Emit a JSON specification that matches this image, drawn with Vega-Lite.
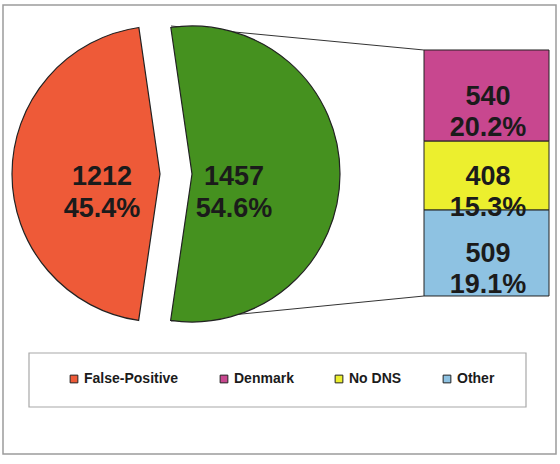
{
  "$schema": "https://vega.github.io/schema/vega-lite/v6.json",
  "width": 553,
  "height": 449,
  "padding": {"left": 3, "top": 5, "right": 4, "bottom": 10},
  "autosize": {"type": "none"},
  "background": "white",
  "config": {
    "view": {"stroke": "#9c9c9c", "strokeWidth": 1.5},
    "text": {"font": "Liberation Sans"}
  },
  "datasets": {
    "pie": [
      {"category": "False-Positive", "value": 1212, "pct": "45.4%"},
      {"category": "Rest", "value": 1457, "pct": "54.6%"}
    ],
    "bar": [
      {"category": "Denmark", "value": 540, "pct": "20.2%"},
      {"category": "No DNS", "value": 408, "pct": "15.3%"},
      {"category": "Other", "value": 509, "pct": "19.1%"}
    ]
  },
  "layer": [
    {
      "data": {"values": [{}]},
      "mark": {"type": "rect", "x": 26, "y": 348, "x2": 523, "y2": 402, "fill": "white", "stroke": "#a8a8a8", "strokeWidth": 1.2},
      "encoding": {}
    },
    {
      "data": {"values": [{}]},
      "mark": {"type": "rule", "stroke": "#333333", "strokeWidth": 1},
      "encoding": {"x": {"value": 168}, "y": {"value": 21}, "x2": {"value": 421}, "y2": {"value": 45}}
    },
    {
      "data": {"values": [{}]},
      "mark": {"type": "rule", "stroke": "#333333", "strokeWidth": 1},
      "encoding": {"x": {"value": 168}, "y": {"value": 316}, "x2": {"value": 421}, "y2": {"value": 291}}
    },
    {
      "data": {"name": "pie"},
      "transform": [
        {"stack": "value", "groupby": [], "sort": [{"field": "category"}], "as": ["v0", "v1"]},
        {"filter": "datum.category === 'False-Positive'"}
      ],
      "mark": {"type": "arc", "x": 157, "y": 169, "outerRadius": 148, "stroke": "#222222", "strokeWidth": 1.2},
      "encoding": {
        "theta": {"field": "v0", "type": "quantitative", "scale": {"domain": [0, 2669], "range": [3.2865, 9.5697]}},
        "theta2": {"field": "v1"},
        "color": {
          "field": "category",
          "type": "nominal",
          "scale": {"domain": ["False-Positive", "Denmark", "No DNS", "Other"], "range": ["#EE5A38", "#C8478F", "#ECEF2E", "#8EC2E2"]},
          "legend": {
            "orient": "none",
            "legendX": 64,
            "legendY": 367,
            "direction": "horizontal",
            "title": null,
            "symbolType": "square",
            "symbolSize": 60,
            "symbolStrokeColor": "#333333",
            "symbolStrokeWidth": 1,
            "symbolOpacity": 1,
            "labelFont": "Liberation Sans",
            "labelFontWeight": "bold",
            "labelFontSize": 14,
            "labelColor": "#1b1b1b",
            "labelOffset": 3,
            "columnPadding": 38,
            "padding": 0
          }
        }
      }
    },
    {
      "data": {"name": "pie"},
      "transform": [
        {"stack": "value", "groupby": [], "sort": [{"field": "category"}], "as": ["v0", "v1"]},
        {"filter": "datum.category === 'Rest'"}
      ],
      "mark": {"type": "arc", "x": 189, "y": 169, "outerRadius": 148, "fill": "#45911F", "stroke": "#222222", "strokeWidth": 1.2},
      "encoding": {
        "theta": {"field": "v0", "type": "quantitative", "scale": {"domain": [0, 2669], "range": [3.2865, 9.5697]}},
        "theta2": {"field": "v1"}
      }
    },
    {
      "data": {"name": "pie"},
      "transform": [
        {"stack": "value", "groupby": [], "sort": [{"field": "category"}], "as": ["v0", "v1"]},
        {"filter": "datum.category === 'False-Positive'"},
        {"calculate": "(datum.v0 + datum.v1) / 2", "as": "mid"},
        {"calculate": "datum.value + '\\n' + datum.pct", "as": "label"}
      ],
      "mark": {"type": "text", "x": 157, "y": 172, "radius": 58, "fontSize": 27, "fontWeight": "bold", "lineHeight": 32, "lineBreak": "\n", "align": "center", "baseline": "middle", "color": "#1b1b1b"},
      "encoding": {
        "theta": {"field": "mid", "type": "quantitative", "stack": null, "scale": {"domain": [0, 2669], "range": [3.2865, 9.5697]}},
        "text": {"field": "label"}
      }
    },
    {
      "data": {"name": "pie"},
      "transform": [
        {"stack": "value", "groupby": [], "sort": [{"field": "category"}], "as": ["v0", "v1"]},
        {"filter": "datum.category === 'Rest'"},
        {"calculate": "(datum.v0 + datum.v1) / 2", "as": "mid"},
        {"calculate": "datum.value + '\\n' + datum.pct", "as": "label"}
      ],
      "mark": {"type": "text", "x": 189, "y": 172, "radius": 42, "fontSize": 27, "fontWeight": "bold", "lineHeight": 32, "lineBreak": "\n", "align": "center", "baseline": "middle", "color": "#1b1b1b"},
      "encoding": {
        "theta": {"field": "mid", "type": "quantitative", "stack": null, "scale": {"domain": [0, 2669], "range": [3.2865, 9.5697]}},
        "text": {"field": "label"}
      }
    },
    {
      "data": {"name": "bar"},
      "transform": [
        {"stack": "value", "groupby": [], "sort": [{"field": "category", "order": "descending"}], "as": ["v0", "v1"]}
      ],
      "mark": {"type": "rect", "x": 421, "x2": 546, "stroke": "#222222", "strokeWidth": 1},
      "encoding": {
        "y": {"field": "v0", "type": "quantitative", "axis": null, "scale": {"domain": [-935.8, 1723.5], "nice": false, "zero": false}},
        "y2": {"field": "v1"},
        "color": {"field": "category", "type": "nominal"}
      }
    },
    {
      "data": {"name": "bar"},
      "transform": [
        {"stack": "value", "groupby": [], "sort": [{"field": "category", "order": "descending"}], "as": ["v0", "v1"]},
        {"calculate": "(datum.v0 + datum.v1) / 2", "as": "mid"},
        {"calculate": "datum.value + '\\n' + datum.pct", "as": "label"}
      ],
      "mark": {"type": "text", "x": 485, "dy": 1, "fontSize": 27, "fontWeight": "bold", "lineHeight": 31, "lineBreak": "\n", "align": "center", "baseline": "middle", "color": "#1b1b1b"},
      "encoding": {
        "y": {"field": "mid", "type": "quantitative", "axis": null, "scale": {"domain": [-935.8, 1723.5], "nice": false, "zero": false}},
        "text": {"field": "label"}
      }
    }
  ]
}
